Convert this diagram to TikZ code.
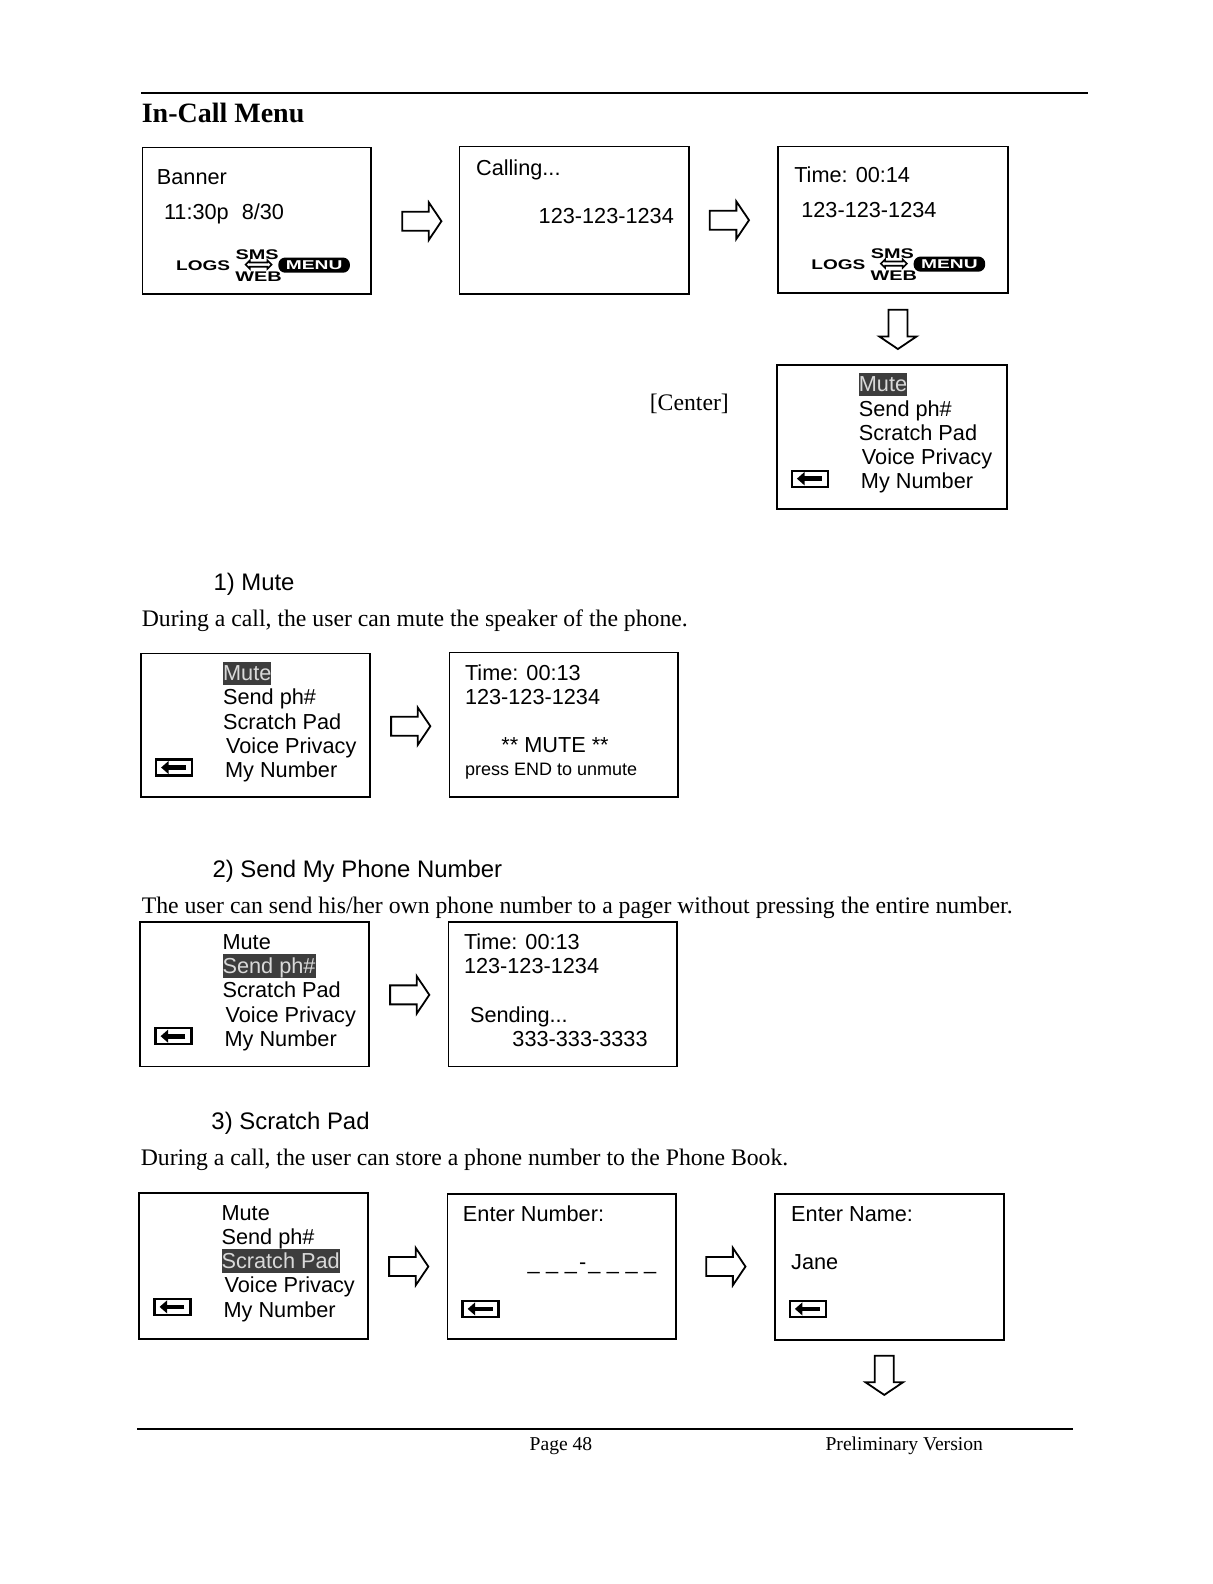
\documentclass[tikz,border=0pt]{standalone}
\usepackage{fontspec}
\setmainfont{Liberation Serif}
\setsansfont{Liberation Sans}
\usetikzlibrary{calc,arrows.meta,shapes.arrows}

\tikzset{
	screen/.style={draw,line width=.9pt,anchor=north west,inner sep=0pt,outer sep=0pt},
	lcd/.style={anchor=base west,inner sep=0pt,font=\sffamily\fontsize{10.85}{13}\selectfont},
	title/.style={anchor=base west,inner sep=0pt,font=\sffamily\fontsize{11.95}{14}\selectfont},
	body/.style={anchor=base west,inner sep=0pt,font=\fontsize{11.86}{14}\selectfont},
	foot/.style={anchor=base west,inner sep=0pt,font=\fontsize{9.8}{12}\selectfont},
	softkey/.style={anchor=base,inner sep=0pt,font=\sffamily\bfseries\fontsize{7}{8}\selectfont},
	menupill/.style={fill=black,text=white,rounded corners=3.5pt,inner sep=0pt,minimum width=35.8pt,minimum height=7.6pt,font=\sffamily\bfseries\fontsize{6.4}{7}\selectfont},
	swapkey/.style={shape=double arrow,draw,line width=.8pt,inner sep=0pt,minimum height=13pt,minimum width=4.2pt,double arrow head extend=.4pt},
	blockarrow/.style={shape=single arrow,draw,line width=.9pt,inner xsep=0pt,inner ysep=4.3pt,minimum height=19.6pt,single arrow head extend=4.6pt,single arrow tip angle=112},
	backkey/.style={draw,line width=1.1pt,inner sep=0pt,outer sep=0pt,minimum width=18pt,minimum height=8pt,anchor=north west},
	backarrow/.style={-{Triangle[length=3.8pt,width=6.4pt]},line width=2.3pt},
	hilite/.style={fill=black!76,text=white!85!black},
	item1/.style={},item2/.style={},item3/.style={},item4/.style={},item5/.style={},
}

%% one screen: name, left, top, width, height
\newcommand{\screenbox}[5]{\node[screen,minimum width=#4*.505pt,minimum height=#5*.505pt] (#1) at (#2,#3) {};}
%% LOGS / SMS / WEB / MENU row, placed from the top left corner of the screen
\newcommand{\softkeys}[1]{
	\node[softkey,anchor=base west] (#1logs) at ($(#1.north west)+(33,122)$) {\scalebox{1.36}[1]{LOGS}};
	\node[softkey] (#1sms) at ($(#1.north west)+(113.5,111)$) {\scalebox{1.42}[1]{SMS}};
	\node[swapkey] (#1swap) at ($(#1.north west)+(115,116)$) {};
	\node[softkey] (#1web) at ($(#1.north west)+(115,132.5)$) {\scalebox{1.42}[1]{WEB}};
	\node[menupill] (#1menu) at ($(#1.north west)+(170,116.5)$) {\scalebox{1.5}[1]{MENU}};
}
%% back key: name, screen, offset
\newcommand{\backbox}[3]{
	\node[backkey] (#1back) at ($(#1.north west)+(#2,#3)$) {};
	\draw[backarrow] ($(#1back.east)+(-6,0)$) -- ($(#1back.west)+(5,0)$);
}
%% the five lines of the menu: screen, number of the marked line
\newcommand{\menulist}[2]{
	\begin{scope}[item#2/.style={hilite}]
	\foreach \i/\dx/\dy/\txt in {1/81/27/Mute,2/81/51/Send ph\#,3/81/75/Scratch Pad,4/84/99/Voice Privacy,5/83/123/My Number}
		\node[lcd,text height=9.6pt,text depth=2pt,item\i] (#1i\i) at ($(#1.north west)+(\dx,\dy)$) {\txt};
	\end{scope}
	\backbox{#1}{15}{105}
}

\begin{document}
\begin{tikzpicture}[x=.505pt,y=-.505pt]
	\useasboundingbox (0,0) rectangle (1200,1568.3);

	%% page rules
	\coordinate (R1) at (140,92);
	\coordinate (R2) at (1077,92);
	\coordinate (R3) at (136,1415);
	\coordinate (R4) at (1062,1415);
	\draw[line width=1pt] (R1) -- (R2);
	\draw[line width=.9pt] (R3) -- (R4);

	\node[anchor=base west,inner sep=0pt,font=\bfseries\fontsize{14}{16}\selectfont] (head) at (140,121) {In-Call Menu};

	%% first row
	\screenbox{banner}{141}{146}{226}{145}
	\node[lcd] (bannerA) at (155,183) {Banner};
	\node[lcd] (bannerB) at (162,217) {11:30p};
	\node[lcd] (bannerC) at (239,217) {8/30};
	\softkeys{banner}
	\node[blockarrow] (arrA) at (414.5,219) {};

	\screenbox{calling}{455}{145}{227}{146}
	\node[lcd] (callingA) at (471,174) {Calling...};
	\node[lcd] (callingB) at (533,221) {123-123-1234};
	\node[blockarrow] (arrB) at (719,218) {};

	\screenbox{timer}{770}{145}{228}{145}
	\node[lcd] (timerA) at (786,181) {Time: 00:14};
	\node[lcd] (timerB) at (793,215) {123-123-1234};
	\softkeys{timer}
	\node[blockarrow,rotate=-90] (arrC) at (889,323) {};

	\node[body] (center) at (643,406) {[Center]};
	\screenbox{menuA}{769}{361}{228}{143}
	\menulist{menuA}{1}

	%% 1) mute
	\node[title] (muteT) at (211,585) {1) Mute};
	\node[body] (muteB) at (140,620) {During a call, the user can mute the speaker of the phone.};
	\screenbox{menuB}{139.5}{647}{227}{142}
	\menulist{menuB}{1}
	\node[blockarrow] (arrD) at (403.5,719) {};
	\screenbox{muted}{445}{646}{226}{143}
	\node[lcd] (mutedA) at (460,674) {Time: 00:13};
	\node[lcd] (mutedB) at (460,698) {123-123-1234};
	\node[lcd] (mutedC) at (496,745) {** MUTE **};
	\node[lcd,font=\sffamily\fontsize{9}{11}\selectfont] (mutedD) at (460,768) {press END to unmute};

	%% 2) send my phone number
	\node[title] (sendT) at (210,869) {2) Send My Phone Number};
	\node[body] (sendB) at (140,904) {The user can send his/her own phone number to a pager without pressing the entire number.};
	\screenbox{menuC}{139}{913}{226}{143}
	\menulist{menuC}{2}
	\node[blockarrow] (arrE) at (402.5,985) {};
	\screenbox{sent}{444}{913}{226}{143}
	\node[lcd] (sentA) at (459,940) {Time: 00:13};
	\node[lcd] (sentB) at (459,964) {123-123-1234};
	\node[lcd] (sentC) at (465,1012) {Sending...};
	\node[lcd] (sentD) at (507,1036) {333-333-3333};

	%% 3) scratch pad
	\node[title] (padT) at (209,1118) {3) Scratch Pad};
	\node[body] (padB) at (139,1154) {During a call, the user can store a phone number to the Phone Book.};
	\screenbox{menuD}{138}{1181}{226}{145}
	\menulist{menuD}{3}
	\node[blockarrow] (arrF) at (401.5,1254) {};
	\screenbox{number}{443}{1182}{226}{144}
	\node[lcd] (numberA) at (458,1209) {Enter Number:};
	\node[lcd] (numberB) at (522,1257) {\_\hspace{.3em}\_\hspace{.3em}\_\hspace{.1em}-\hspace{.1em}\_\hspace{.3em}\_\hspace{.3em}\_\hspace{.3em}\_};
	\backbox{number}{15}{106}
	\node[blockarrow] (arrG) at (715.5,1254) {};
	\screenbox{name}{767}{1182}{227}{145}
	\node[lcd] (nameA) at (783,1209) {Enter Name:};
	\node[lcd] (nameB) at (783,1257) {Jane};
	\backbox{name}{15}{106}
	\node[blockarrow,rotate=-90] (arrH) at (875.5,1358.5) {};

	%% footer
	\node[foot] (pageno) at (524,1436) {Page 48};
	\node[foot] (version) at (817,1436) {Preliminary Version};
\end{tikzpicture}
\end{document}
